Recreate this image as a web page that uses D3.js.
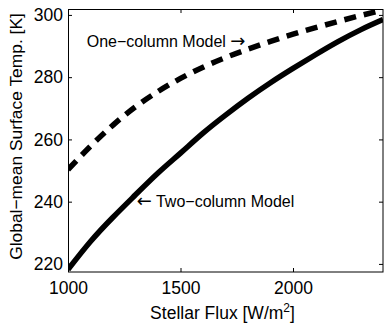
<!DOCTYPE html>
<meta charset="utf-8">
<style>
  body { margin: 0; background: #fff; }
  text { font-family: "Liberation Sans", Arial, sans-serif; fill: #000; }
</style>
<body>
<script src="https://d3js.org/d3.v7.min.js"></script>
<script>

// stellar flux values (W/m^2) and surface temps (K)
var flux = [1000, 1100, 1200, 1300, 1400, 1500, 1600, 1700, 1800, 1900, 2000, 2100, 2200, 2300, 2400];
var twoColumn = [218.2, 227.2, 235.0, 242.2, 249.2, 255.6, 262.0, 267.8, 273.2, 278.2, 282.8, 287.2, 291.4, 295.2, 298.5];
var oneColumn = [250.3, 257.8, 264.6, 270.5, 275.4, 279.6, 283.2, 286.3, 289.0, 291.5, 293.8, 295.9, 297.9, 299.8, 301.6];
var xTicks = [1000, 1500, 2000];
var yTicks = [220, 240, 260, 280, 300];

var margin = {top: 9, right: 8, bottom: 56, left: 68},
    width = 391 - margin.left - margin.right,
    height = 328 - margin.top - margin.bottom;

var x = d3.scaleLinear().domain([1000, 2400]).range([0, width]);
var y = d3.scaleLinear().domain([217.4, 301.9]).range([height, 0]);

var svg = d3.select("body").append("svg")
    .attr("width", 391)
    .attr("height", 328)
  .append("g")
    .attr("transform", "translate(" + margin.left + "," + margin.top + ")");

svg.append("clipPath").attr("id", "clip")
  .append("rect").attr("width", width).attr("height", height);

var line = d3.line()
    .x(function(d) { return x(d[0]); })
    .y(function(d) { return y(d[1]); })
    .curve(d3.curveNatural);

var plot = svg.append("g").attr("clip-path", "url(#clip)");

plot.append("path")
    .datum(d3.zip(flux, oneColumn))
    .attr("d", line)
    .attr("fill", "none")
    .attr("stroke", "#000")
    .attr("stroke-width", 5.5)
    .attr("stroke-dasharray", "12,8");

plot.append("path")
    .datum(d3.zip(flux, twoColumn))
    .attr("d", line)
    .attr("fill", "none")
    .attr("stroke", "#000")
    .attr("stroke-width", 5.5);

// axes, ticks pointing inwards like matlab
function styleAxis(g) {
  g.select(".domain").remove();
  g.selectAll("line").attr("stroke", "#000");
  g.selectAll("text").style("font-size", "17.5px").attr("fill", "#000");
}

svg.append("g")
    .attr("transform", "translate(0," + height + ")")
    .call(d3.axisBottom(x).tickValues(xTicks).tickSize(-4).tickPadding(10).tickFormat(d3.format("d")))
    .call(styleAxis);

svg.append("g")
    .call(d3.axisTop(x).tickValues(xTicks).tickSize(-4).tickFormat(""))
    .call(styleAxis);

svg.append("g")
    .call(d3.axisLeft(y).tickValues(yTicks).tickSize(-4).tickPadding(5))
    .call(styleAxis);

svg.append("g")
    .attr("transform", "translate(" + width + ",0)")
    .call(d3.axisRight(y).tickValues(yTicks).tickSize(-4).tickFormat(""))
    .call(styleAxis);

svg.append("rect")
    .attr("x", 0.5).attr("y", 0.5)
    .attr("width", width - 0.5).attr("height", height - 0.5)
    .attr("fill", "none")
    .attr("stroke", "#000")
    .attr("stroke-width", 1);

// annotations
var a1 = svg.append("text")
    .attr("x", 18.7).attr("y", 37.7)
    .style("font-size", "16px");
a1.append("tspan").text("One\u2212column Model ");
a1.append("tspan").style("font-family", "DejaVu Sans").style("font-size", "18px").text("\u2192");

var a2 = svg.append("text")
    .attr("x", 68.7).attr("y", 198.4)
    .style("font-size", "16px");
a2.append("tspan").style("font-family", "DejaVu Sans").style("font-size", "18px").text("\u2190");
a2.append("tspan").text(" Two\u2212column Model");

// axis labels
var xl = svg.append("text")
    .attr("x", width / 2 - 3).attr("y", height + 47)
    .attr("text-anchor", "middle")
    .style("font-size", "17.5px");
xl.append("tspan").text("Stellar Flux [W/m");
xl.append("tspan").attr("dy", -7).style("font-size", "12px").text("2");
xl.append("tspan").attr("dy", 7).text("]");

svg.append("text")
    .attr("transform", "translate(-46," + (height / 2 - 4) + ") rotate(-90)")
    .attr("text-anchor", "middle")
    .style("font-size", "17.4px")
    .text("Global\u2212mean Surface Temp. [K]");

</script>
</body>
